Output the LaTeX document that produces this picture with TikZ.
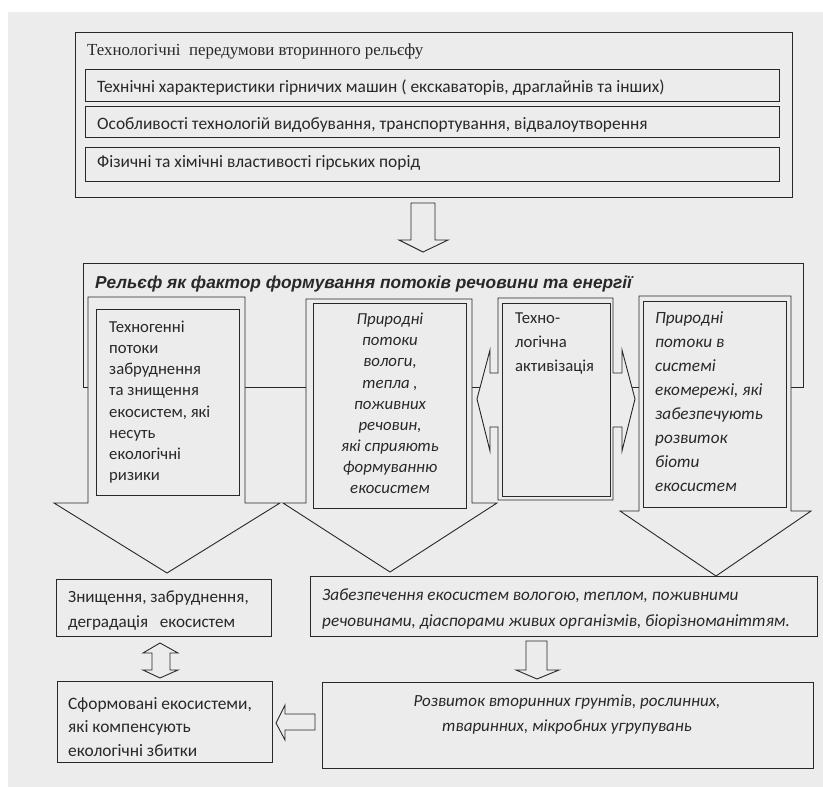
\documentclass[tikz,border=0pt]{standalone}
\usepackage{fontspec}
\setmainfont{Liberation Serif}
\newfontfamily\bodyfont{Carlito}
\newfontfamily\headfont{Liberation Sans}
\usetikzlibrary{positioning}

\definecolor{paper}{RGB}{236,236,236}
\definecolor{ink}{RGB}{40,40,40}

\tikzset{
  box/.style={draw=ink, line width=0.9pt},
  blockarrow/.style={draw=ink, fill=paper, line width=0.9pt, line join=miter},
  txt/.style={inner sep=0pt, text=ink, align=left, font=\bodyfont\fontsize{17.4}{21}\selectfont},
  itxt/.style={txt, font=\bodyfont\itshape\fontsize{16.8}{21.1}\selectfont},
}

\begin{document}
\begin{tikzpicture}[x=1pt,y=-1pt]
\useasboundingbox (0,0) rectangle (823,787);
\fill[white] (0,0) rectangle (823,787);
\fill[paper] (8,12) rectangle (823,787);

% preconditions
\draw[box] (75,32) rectangle (792,197);
\node[txt, anchor=base west, font=\fontsize{16.9}{20}\selectfont] (pre) at (87,56) {Технологічні\ \ передумови вторинного рельєфу};
\draw[box] (85,69) rectangle (779,101);
\node[txt, anchor=base west] (machines) at (97,92) {Технічні характеристики гірничих машин ( екскаваторів, драглайнів та інших)};
\draw[box] (85,106) rectangle (779,137);
\node[txt, anchor=base west] (mining) at (97,129) {Особливості технологій видобування, транспортування, відвалоутворення};
\draw[box] (85,147) rectangle (779,181);
\node[txt, anchor=base west] (rocks) at (97,167) {Фізичні та хімічні властивості гірських порід};

\draw[blockarrow] (411,203) -- (435,203) -- (435,240) -- (448,240) -- (423,252) -- (399,240) -- (411,240) -- cycle;

% relief frame
\draw[box] (83,263) rectangle (803,387);
\node[txt, anchor=base west, font=\headfont\bfseries\itshape\fontsize{17.3}{20}\selectfont] (relief) at (95,288) {Рельєф як фактор формування потоків речовини та енергії};

% technogenic flows
\draw[blockarrow] (88,297) -- (245,297) -- (245,503) -- (280,503) -- (167,573) -- (54,503) -- (88,503) -- cycle;
\draw[box] (96,309) rectangle (239,495);
\node[txt, anchor=north west, font=\bodyfont\fontsize{16.7}{21.1}\selectfont] (techflow) at (109,321) {Техногенні\\потоки\\забруднення\\та знищення\\екосистем, які\\несуть\\екологічні\\ризики};

% natural flows
\draw[blockarrow] (306,299) -- (472,299) -- (472,503) -- (497,503) -- (390,572) -- (283,503) -- (306,503) -- cycle;
\draw[box] (313,303) rectangle (466,508);
\node[itxt, anchor=north, align=center] (natflow) at (390,313) {Природні\\потоки\\вологи,\\тепла ,\\поживних\\речовин,\\які сприяють\\формуванню\\екосистем};

% activation
\draw[blockarrow] (498,298) -- (613,298) -- (613,373) -- (622,373) -- (622,350) -- (635,399) -- (622,451) -- (622,427) -- (613,427) -- (613,500) -- (498,500) -- (498,427) -- (490,427) -- (490,451) -- (477,399) -- (490,350) -- (490,373) -- (498,373) -- cycle;
\draw[box] (502,303) rectangle (610,496);
\node[txt, anchor=north west, font=\bodyfont\fontsize{16.7}{24}\selectfont] (activ) at (515,313) {Техно-\\логічна\\активізація};

% ecological network
\draw[blockarrow] (639,296) -- (791,296) -- (791,511) -- (811,511) -- (716,576) -- (620,511) -- (639,511) -- cycle;
\draw[box] (643,301) rectangle (786,507);
\node[itxt, anchor=north west, font=\bodyfont\itshape\fontsize{17.2}{24.1}\selectfont] (ecoflow) at (655,311) {Природні\\потоки в\\системі\\екомережі, які\\забезпечують\\розвиток\\біоти\\екосистем};

% results
\draw[box] (56,579) rectangle (271,636);
\node[txt, anchor=north west, font=\bodyfont\fontsize{17.1}{25}\selectfont] (destr) at (68,591) {Знищення, забруднення,\\деградація\ \ \ екосистем};
\draw[blockarrow] (152,653) -- (143,653) -- (160,643) -- (178,653) -- (170,653) -- (170,670) -- (178,670) -- (160,678) -- (143,670) -- (152,670) -- cycle;
\draw[box] (57,681) rectangle (272,762);
\node[txt, anchor=north west, font=\bodyfont\fontsize{17.4}{23.5}\selectfont] (formed) at (68,697) {Сформовані екосистеми,\\які компенсують\\екологічні збитки};

\draw[box] (310,576) rectangle (817,636);
\node[itxt, anchor=north west, font=\bodyfont\itshape\fontsize{17.2}{26}\selectfont] (supply) at (322,589) {Забезпечення екосистем вологою, теплом, поживними\\речовинами, діаспорами живих організмів, біорізноманіттям.};
\draw[blockarrow] (526,641) -- (547,641) -- (547,670) -- (559,670) -- (537,679) -- (516,670) -- (526,670) -- cycle;
\draw[box] (322,682) rectangle (813,768);
\node[itxt, anchor=north, align=center, font=\bodyfont\itshape\fontsize{17}{25}\selectfont] (develop) at (567,695) {Розвиток вторинних грунтів, рослинних,\\тваринних, мікробних угрупувань};
\draw[blockarrow] (315,714) -- (285,714) -- (285,705) -- (276,723) -- (285,740) -- (285,730) -- (315,730) -- cycle;
\end{tikzpicture}
\end{document}
